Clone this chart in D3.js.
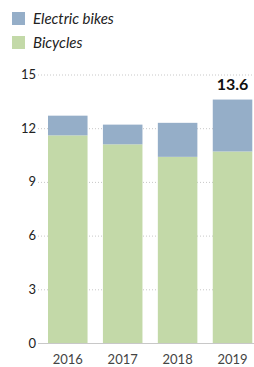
<!DOCTYPE html>
<html>
<head>
<meta charset="utf-8">
<script src="https://cdn.jsdelivr.net/npm/d3@7"></script>
<style>
body{margin:0;background:#fff;}
text{font-family:Lato,"Open Sans",sans-serif;}
</style>
</head>
<body>
<div id="chart"></div>
<script>
var width=254, height=367;

var years=["2016","2017","2018","2019"];
var bicycles=[11.6, 11.1, 10.4, 10.7];
var electric=[1.1, 1.1, 1.9, 2.9];
var yTicks=[0,3,6,9,12,15];
var seriesNames=["Electric bikes","Bicycles"];
var colors={"Electric bikes":"#95aec8","Bicycles":"#c3d9a8"};

var svg=d3.select('#chart').append('svg')
        .attr('width', width)
        .attr('height', height);

var x=d3.scaleBand()
        .range([48, 252.3])
        .domain(years)
        .paddingInner(0.28)
        .paddingOuter(0);

var y=d3.scaleLinear()
        .range([343, 74.5])
        .domain([0, 15]);

// gridlines
svg.append('g').selectAll('line')
    .data(yTicks.filter(function(d){return d>0;}))
    .enter().append('line')
    .attr('x1', 38).attr('x2', 254)
    .attr('y1', function(d){return y(d)+0.5;})
    .attr('y2', function(d){return y(d)+0.5;})
    .style('stroke', '#c8c8c8')
    .style('stroke-width', 1)
    .style('stroke-dasharray', '1,2');

// y labels
svg.append('g').selectAll('text')
    .data(yTicks)
    .enter().append('text')
    .attr('x', 36)
    .attr('y', function(d){return y(d)+4.5;})
    .attr('text-anchor', 'end')
    .style('font-size', '13px')
    .style('fill', '#222')
    .text(function(d){return d;});

// stacked bars
for(i=0;i<years.length;i++){
    svg.append('rect')
        .attr('x', x(years[i]))
        .attr('y', y(bicycles[i]))
        .attr('width', x.bandwidth())
        .attr('height', y(0)-y(bicycles[i]))
        .style('fill', colors["Bicycles"]);
    svg.append('rect')
        .attr('x', x(years[i]))
        .attr('y', y(bicycles[i]+electric[i]))
        .attr('width', x.bandwidth())
        .attr('height', y(bicycles[i])-y(bicycles[i]+electric[i]))
        .style('fill', colors["Electric bikes"]);
}

// baseline
svg.append('line')
    .attr('x1', 38).attr('x2', 254)
    .attr('y1', y(0)+0.5).attr('y2', y(0)+0.5)
    .style('stroke', '#c8c8c8');

// x labels
svg.append('g').selectAll('text')
    .data(years)
    .enter().append('text')
    .attr('x', function(d){return x(d)+x.bandwidth()/2;})
    .attr('y', 364)
    .attr('text-anchor', 'middle')
    .style('font-size', '13px')
    .style('fill', '#444')
    .text(function(d){return d;});

// total label on last bar
var last=years.length-1;
var total=bicycles[last]+electric[last];
svg.append('text')
    .attr('x', x(years[last])+x.bandwidth()/2)
    .attr('y', y(total)-10)
    .attr('text-anchor', 'middle')
    .style('font-size', '16px')
    .style('font-weight', 'bold')
    .style('fill', '#111')
    .text(total.toFixed(1));

// legend
var legend=svg.append('g').selectAll('g')
    .data(seriesNames)
    .enter().append('g')
    .attr('transform', function(d,i){return 'translate(12,'+(12+i*24)+')';});
legend.append('rect')
    .attr('width', 13).attr('height', 13)
    .style('fill', function(d){return colors[d];});
legend.append('text')
    .attr('x', 21).attr('y', 12)
    .style('font-size', '15px')
    .style('font-style', 'italic')
    .style('fill', '#222')
    .text(function(d){return d;});
</script>
</body>
</html>
